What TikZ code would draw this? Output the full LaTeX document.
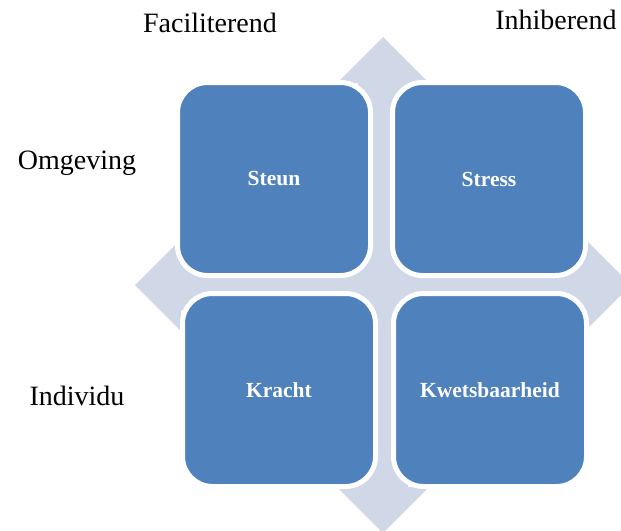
\documentclass[tikz,border=0pt]{standalone}
\usepackage{fontspec}
\setmainfont{Liberation Serif}
\definecolor{boxblue}{HTML}{4F81BD}
\definecolor{crossgray}{HTML}{D0D8E8}
\tikzset{
  quad/.style={rectangle, rounded corners=30pt, fill=boxblue, draw=white, line width=5pt,
    minimum width=193pt, minimum height=193pt, text=white,
    font=\fontsize{21.5}{24}\selectfont\bfseries},
  side/.style={anchor=base, font=\fontsize{28}{32}\selectfont}
}
\begin{document}
\begin{tikzpicture}[x=1pt, y=-1pt]
    \useasboundingbox (0,0) rectangle (621,530);

    % Draw the cross behind the boxes
    \begin{scope}
      \clip (0,0) rectangle (621,530);
      \fill[crossgray, shift={(383,285)}]
        (0,-248) -- (46,-202) -- (25,-202) -- (25,-25) -- (202,-25) -- (202,-46)
        -- (248,0) -- (202,46) -- (202,25) -- (25,25) -- (25,202) -- (46,202)
        -- (0,248) -- (-46,202) -- (-25,202) -- (-25,25) -- (-202,25) -- (-202,46)
        -- (-248,0) -- (-202,-46) -- (-202,-25) -- (-25,-25) -- (-25,-202) -- (-46,-202)
        -- cycle;
    \end{scope}

    % Draw the boxes
    \node[quad] (steun) at (274,179) {Steun};
    \node[quad] (stress) at (489,179) {Stress};
    \node[quad] (kracht) at (279,390) {Kracht};
    \node[quad] (kwets) at (490,390) {Kwetsbaarheid};

    % Labels round the boxes
    \node[side] (facil) at (210,32) {Faciliterend};
    \node[side] (inhib) at (556,29) {Inhiberend};
    \node[side] (omgev) at (77,169) {Omgeving};
    \node[side] (indiv) at (77,405) {Individu};
\end{tikzpicture}
\end{document}
